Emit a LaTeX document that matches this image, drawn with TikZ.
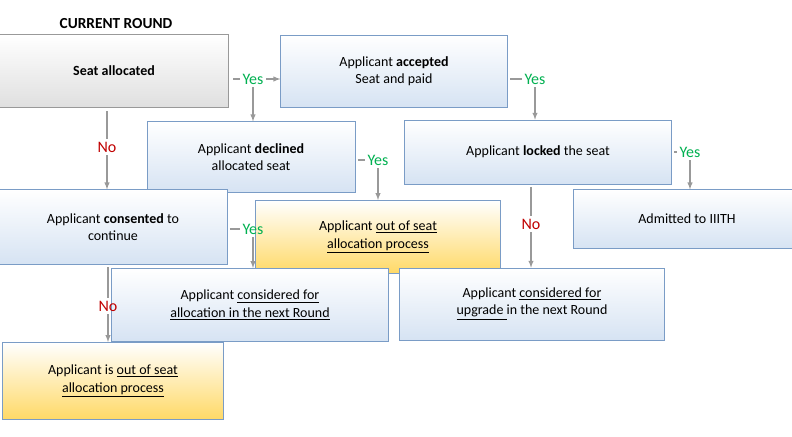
\documentclass[tikz,border=0pt]{standalone}
\usepackage{fontspec}
\setmainfont{Carlito}
\definecolor{boxline}{HTML}{7A9CC6}
\definecolor{boxfill}{HTML}{D6E3F3}
\definecolor{outfill}{HTML}{FFD966}
\definecolor{yescol}{HTML}{00B050}
\definecolor{nocol}{HTML}{C00000}
\begin{document}
\begin{tikzpicture}
[
x=0.75pt, y=-0.75pt,
box/.style={rectangle, draw=boxline, top color=white, bottom color=boxfill, align=center, inner sep=0pt, font=\fontsize{10.5}{13}\selectfont},
start/.style={rectangle, draw=gray!80, very thick, top color=white, bottom color=gray!25, align=center, inner sep=0pt, font=\fontsize{10.5}{13}\selectfont\bfseries},
outbox/.style={box, bottom color=outfill},
yes/.style={text=yescol, font=\fontsize{12}{14}\selectfont, inner sep=2pt},
no/.style={text=nocol, font=\fontsize{12}{14}\selectfont, inner sep=2pt},
conn/.style={draw=gray!80, thick},
arr/.style={conn, -latex}
]
\useasboundingbox (0,0) rectangle (792,436);
%Nodes
\node[font=\fontsize{11.5}{14}\selectfont\bfseries] (title) at (116,24) {CURRENT ROUND};
\node[start, minimum width=172, minimum height=55] (seat) at (114,71) {Seat allocated};
\node[box, minimum width=170, minimum height=54] (accepted) at (394,71) {Applicant \textbf{accepted}\\Seat and paid};
\node[box, minimum width=156, minimum height=53] (declined) at (251,157) {Applicant \textbf{declined}\\allocated seat};
\node[box, minimum width=200, minimum height=48] (locked) at (538,152) {Applicant \textbf{locked} the seat};
\node[box, minimum width=171, minimum height=56] (consented) at (113,227) {Applicant \textbf{consented} to\\continue};
\node[outbox, minimum width=184, minimum height=55] (out1) at (378,237) {Applicant \underline{out of seat}\\\underline{allocation process}};
\node[box, minimum width=170, minimum height=44] (admitted) at (687,219) {Admitted to IIITH};
\node[box, minimum width=208, minimum height=55] (nextround) at (250,305) {Applicant \underline{considered for}\\\underline{allocation in the next Round}};
\node[box, minimum width=199, minimum height=54] (upgrade) at (532,304) {Applicant \underline{considered for}\\\underline{upgrade }in the next Round};
\node[outbox, minimum width=166, minimum height=58] (out2) at (113,381) {Applicant is \underline{out of seat}\\\underline{allocation process}};

\node[yes] (yes1) at (253,79) {Yes};
\node[no]  (no1)  at (107,147) {No};
\node[yes] (yes2) at (535,79) {Yes};
\node[yes] (yes3) at (378,160) {Yes};
\node[yes] (yes4) at (690,152) {Yes};
\node[no]  (no2)  at (531,224) {No};
\node[yes] (yes5) at (253,229) {Yes};
\node[no]  (no3)  at (108,306) {No};

%Lines
\draw[conn] ([xshift=3pt]seat.east |- yes1) -- (yes1);
\draw[arr] (yes1) -- (accepted.west |- yes1);
\draw[arr] (yes1.south) -- (yes1.south |- declined.north);
\draw[conn] ([yshift=-2pt]seat.south -| no1) -- (no1);
\draw[arr] (no1) -- (no1 |- consented.north);
\draw[conn] ([xshift=2pt]accepted.east |- yes2) -- (yes2);
\draw[arr] (yes2.south) -- (yes2.south |- locked.north);
\draw[conn] ([xshift=2pt]declined.east |- yes3) -- (yes3);
\draw[arr] (yes3.south) -- (yes3.south |- out1.north);
\draw[conn] ([xshift=2pt]locked.east |- yes4) -- (yes4);
\draw[arr] (yes4.south) -- (yes4.south |- admitted.north);
\draw[conn] ([yshift=-2pt]locked.south -| no2) -- (no2);
\draw[arr] (no2) -- (no2 |- upgrade.north);
\draw[conn] ([xshift=2pt]consented.east |- yes5) -- (yes5);
\draw[arr] (yes5.south) -- (yes5.south |- nextround.north);
\draw[conn] ([yshift=-2pt]consented.south -| no3) -- (no3);
\draw[arr] (no3) -- (no3 |- out2.north);
\end{tikzpicture}
\end{document}
